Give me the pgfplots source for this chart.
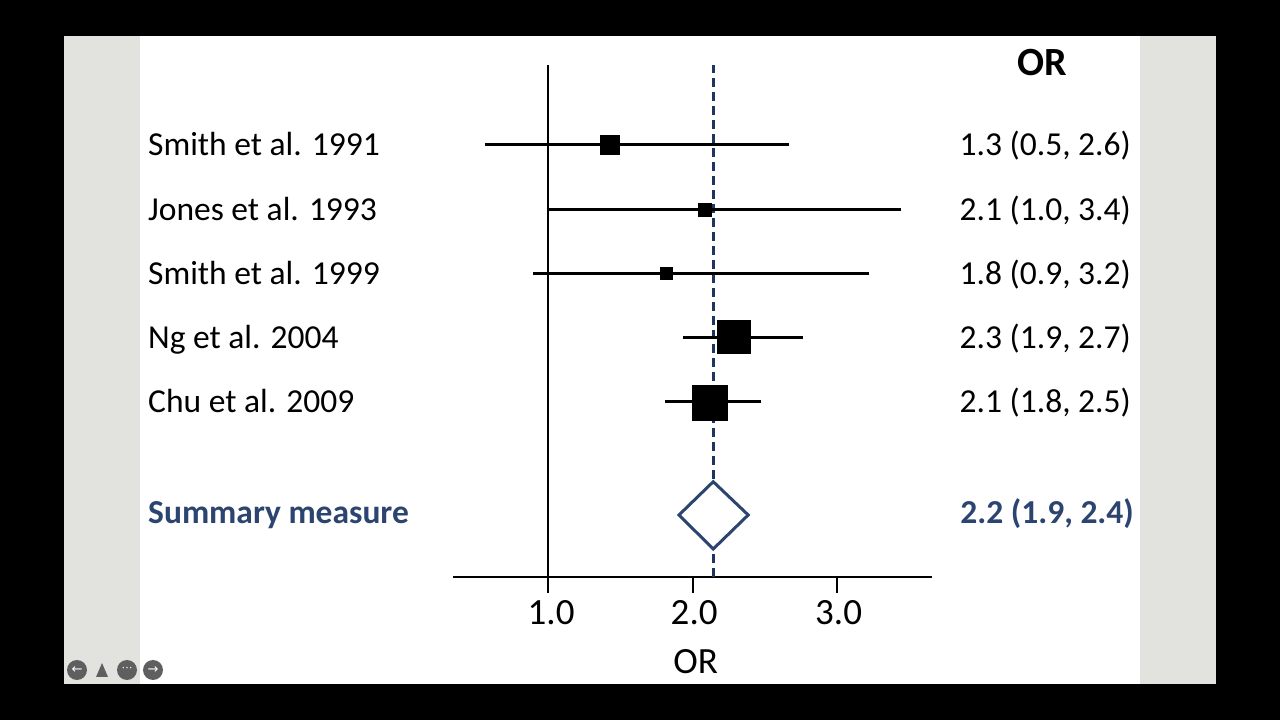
\documentclass[border=0pt]{standalone}
\usepackage{pgfplots}
\pgfplotsset{compat=1.18}
\usepackage{fontspec}
\setmainfont{Carlito}
\newfontfamily\dejavu{DejaVu Sans}
\definecolor{navy}{RGB}{31,52,96}
\definecolor{sumblue}{RGB}{44,68,112}
\definecolor{sidegray}{RGB}{226,226,222}
\definecolor{icongray}{RGB}{95,95,95}
\newcommand\fs{\fontsize{33.5}{40}\selectfont}
\newcommand\fst{\fontsize{37}{44}\selectfont}
\begin{document}
\begin{tikzpicture}[x=1pt,y=1pt]
\fill[black] (0,0) rectangle (1280,720);
\fill[white] (64,36) rectangle (1216,684);
\fill[sidegray] (64,36) rectangle (140,684);
\fill[sidegray] (1140,36) rectangle (1216,684);
% slide navigation icons
\fill[icongray] (77,50) circle (10);
\node[white,font=\dejavu\fontsize{13}{13}\selectfont] at (77,50) {←};
\fill[icongray] (96,43) -- (108,43) -- (102,57) -- cycle;
\fill[icongray] (127,50) circle (10);
\node[white,font=\dejavu\fontsize{11}{11}\selectfont] at (127,51) {⋯};
\fill[icongray] (153,50) circle (10);
\node[white,font=\dejavu\fontsize{13}{13}\selectfont] at (153,50) {→};
\begin{axis}[
  at={(453pt,143pt)}, anchor=south west,
  scale only axis, width=479pt, height=512pt,
  xmin=0.341, xmax=3.656, ymin=0, ymax=8,
  axis x line*=bottom, axis y line=none,
  x axis line style={line width=2.8pt, black},
  xtick={1,2,3}, xticklabels={},
  tick align=outside, major tick length=16pt,
  xtick style={line width=2pt, black},
  clip=false,
]
% reference (summary) line
\addplot[navy, line width=3pt, dash pattern=on 9pt off 5pt] coordinates {(2.142,0) (2.142,8)};
% line of no effect
\addplot[black, line width=2pt] coordinates {(1,0) (1,8)};
% confidence intervals
\addplot[black, line width=3pt] coordinates {(0.564,6.75) (2.668,6.75)};
\addplot[black, line width=3pt] coordinates {(1.0,5.74) (3.443,5.74)};
\addplot[black, line width=3pt] coordinates {(0.896,4.745) (3.22,4.745)};
\addplot[black, line width=3pt] coordinates {(1.934,3.74) (2.765,3.74)};
\addplot[black, line width=3pt] coordinates {(1.81,2.74) (2.474,2.74)};
% point estimates
\addplot[only marks, mark=square*, mark size=9.5pt, black] coordinates {(1.422,6.75)};
\addplot[only marks, mark=square*, mark size=6.5pt, black] coordinates {(2.08,5.74)};
\addplot[only marks, mark=square*, mark size=6pt, black] coordinates {(1.817,4.745)};
\addplot[only marks, mark=square*, mark size=16.5pt, black] coordinates {(2.285,3.755)};
\addplot[only marks, mark=square*, mark size=17.5pt, black] coordinates {(2.12,2.72)};
% summary diamond
\addplot[sumblue, line width=3pt, fill=white, line join=miter] coordinates {(1.905,0.969) (2.142,1.489) (2.384,0.969) (2.142,0.4375)} -- cycle;
% study labels
\node[anchor=base west, inner sep=0, yshift=-11pt, font=\fs] at (axis cs:-1.77,6.75) {Smith et al. 1991};
\node[anchor=base west, inner sep=0, yshift=-11pt, font=\fs] at (axis cs:-1.77,5.74) {Jones et al. 1993};
\node[anchor=base west, inner sep=0, yshift=-11pt, font=\fs] at (axis cs:-1.77,4.745) {Smith et al. 1999};
\node[anchor=base west, inner sep=0, yshift=-11pt, font=\fs] at (axis cs:-1.77,3.74) {Ng et al. 2004};
\node[anchor=base west, inner sep=0, yshift=-11pt, font=\fs] at (axis cs:-1.77,2.74) {Chu et al. 2009};
\node[anchor=base west, inner sep=0, yshift=-11pt, font=\fs\bfseries, text=sumblue] at (axis cs:-1.77,1.0) {Summary measure};
% OR values
\node[anchor=base, inner sep=0, font=\fontsize{40}{46}\selectfont\bfseries] at (axis cs:4.417,7.83) {OR};
\node[anchor=base east, inner sep=0, yshift=-11pt, font=\fs] at (axis cs:5.033,6.75) {1.3 (0.5, 2.6)};
\node[anchor=base east, inner sep=0, yshift=-11pt, font=\fs] at (axis cs:5.033,5.74) {2.1 (1.0, 3.4)};
\node[anchor=base east, inner sep=0, yshift=-11pt, font=\fs] at (axis cs:5.033,4.745) {1.8 (0.9, 3.2)};
\node[anchor=base east, inner sep=0, yshift=-11pt, font=\fs] at (axis cs:5.033,3.74) {2.3 (1.9, 2.7)};
\node[anchor=base east, inner sep=0, yshift=-11pt, font=\fs] at (axis cs:5.033,2.74) {2.1 (1.8, 2.5)};
\node[anchor=base east, inner sep=0, yshift=-11pt, font=\fs\bfseries, text=sumblue] at (axis cs:5.054,1.0) {2.2 (1.9, 2.4)};
% tick labels and axis title
\node[anchor=base, inner sep=0, yshift=-48pt, font=\fst] at (axis cs:1.02,0) {1.0};
\node[anchor=base, inner sep=0, yshift=-48pt, font=\fst] at (axis cs:2.01,0) {2.0};
\node[anchor=base, inner sep=0, yshift=-48pt, font=\fst] at (axis cs:3.01,0) {3.0};
\node[anchor=base, inner sep=0, yshift=-96pt, font=\fst] at (axis cs:2.02,0) {OR};
\end{axis}
\end{tikzpicture}
\end{document}
